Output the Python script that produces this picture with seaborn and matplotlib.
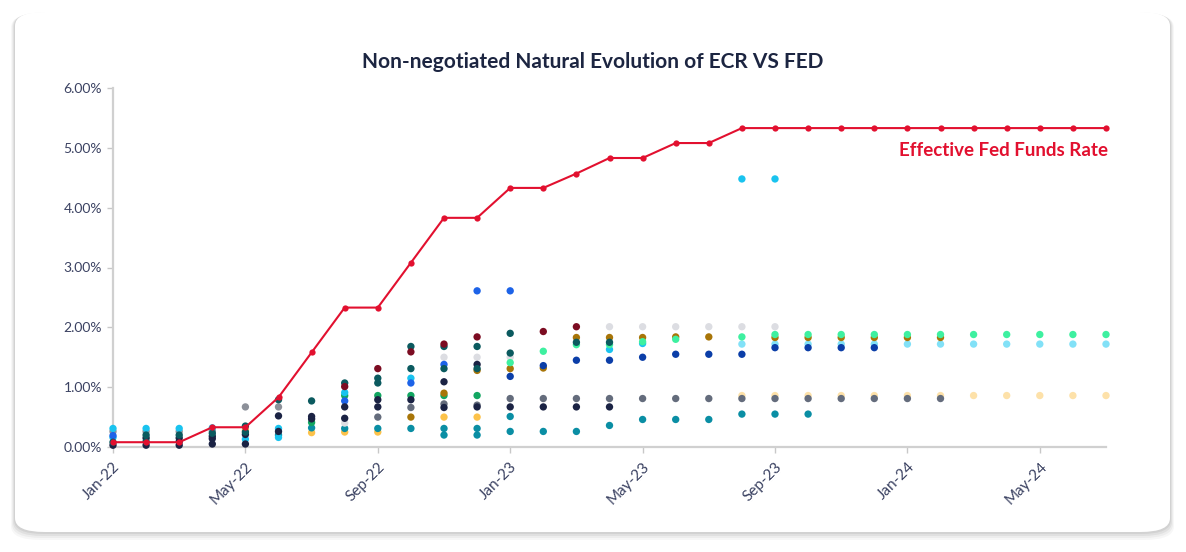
import numpy as np
import pandas as pd
import matplotlib
matplotlib.use("Agg")
import matplotlib.pyplot as plt
import seaborn as sns
from matplotlib.patches import FancyBboxPatch

N = np.nan

months = ["Jan-22", "Feb-22", "Mar-22", "Apr-22", "May-22", "Jun-22", "Jul-22", "Aug-22",
          "Sep-22", "Oct-22", "Nov-22", "Dec-22", "Jan-23", "Feb-23", "Mar-23", "Apr-23",
          "May-23", "Jun-23", "Jul-23", "Aug-23", "Sep-23", "Oct-23", "Nov-23", "Dec-23",
          "Jan-24", "Feb-24", "Mar-24", "Apr-24", "May-24", "Jun-24", "Jul-24"]
tick_labels = ["Jan-22", "May-22", "Sep-22", "Jan-23", "May-23", "Sep-23", "Jan-24", "May-24"]

fed_rate = [0.08, 0.08, 0.08, 0.33, 0.33, 0.83, 1.58, 2.33, 2.33, 3.08, 3.83, 3.83, 4.33, 4.33,
            4.57, 4.83, 4.83, 5.08, 5.08, 5.33, 5.33, 5.33, 5.33, 5.33, 5.33, 5.33, 5.33, 5.33,
            5.33, 5.33, 5.33]

#            0    1    2    3    4    5    6    7    8    9    10   11   12   13   14   15   16   17   18   19   20   21   22   23   24   25   26   27   28   29   30
cyan_a    = [.31, .31, .31, .32, N,   .31, N,   .91, N,   1.15,N,   N,   N,   N,   N,   1.63,1.73,N,   N,   N,   N,   N,   N,   N,   N,   N,   N,   N,   N,   N,   N]
cyan_b    = [.16, N,   N,   N,   .13, .16, N,   N,   N,   N,   N,   N,   N,   N,   N,   N,   N,   N,   N,   4.48,4.48,N,   N,   N,   N,   N,   N,   N,   N,   N,   N]
gray_a    = [.26, .26, .26, .27, .67, .67, N,   N,   N,   N,   N,   N,   N,   N,   N,   N,   N,   N,   N,   N,   N,   N,   N,   N,   N,   N,   N,   N,   N,   N,   N]
blue_a    = [.19, N,   N,   N,   N,   N,   N,   .77, N,   1.07,1.38,2.61,2.61,N,   N,   N,   N,   N,   N,   N,   N,   N,   N,   N,   N,   N,   N,   N,   N,   N,   N]
tealdk_a  = [.08, .20, .20, .23, .35, .79, .77, 1.07,1.15,1.68,1.68,1.68,1.90,N,   N,   N,   N,   N,   N,   N,   N,   N,   N,   N,   N,   N,   N,   N,   N,   N,   N]
tealdk_b  = [N,   .09, N,   N,   .25, N,   N,   N,   1.07,1.31,1.31,1.31,1.57,N,   1.75,1.75,N,   N,   N,   N,   N,   N,   N,   N,   N,   N,   N,   N,   N,   N,   N]
navy_a    = [.03, .03, .03, .05, .05, .26, .47, .48, .67, .79, 1.09,1.38,N,   N,   N,   N,   N,   N,   N,   N,   N,   N,   N,   N,   N,   N,   N,   N,   N,   N,   N]
navy_b    = [N,   .15, .15, .18, .21, .52, .51, .67, .79, N,   .66, .67, .67, .67, .67, .67, N,   N,   N,   N,   N,   N,   N,   N,   N,   N,   N,   N,   N,   N,   N]
navy_c    = [N,   N,   .09, .14, N,   N,   N,   N,   N,   N,   N,   N,   N,   N,   N,   N,   N,   N,   N,   N,   N,   N,   N,   N,   N,   N,   N,   N,   N,   N,   N]
maroon_a  = [N,   N,   N,   N,   N,   N,   N,   1.01,1.31,1.59,1.72,1.84,N,   1.93,2.01,N,   N,   N,   N,   N,   N,   N,   N,   N,   N,   N,   N,   N,   N,   N,   N]
ltgray_a  = [N,   N,   N,   N,   N,   N,   N,   .40, N,   N,   1.50,1.50,1.50,N,   N,   2.01,2.01,2.01,2.01,2.01,2.01,N,   N,   N,   N,   N,   N,   N,   N,   N,   N]
green_a   = [N,   N,   N,   N,   N,   N,   .41, .86, .86, .86, .86, .86, N,   N,   N,   N,   N,   N,   N,   N,   N,   N,   N,   N,   N,   N,   N,   N,   N,   N,   N]
teal_a    = [N,   N,   N,   N,   N,   .20, .32, .31, .31, .31, .31, .31, .26, .26, .26, .36, .46, .46, .46, .55, .55, .55, N,   N,   N,   N,   N,   N,   N,   N,   N]
teal_b    = [N,   N,   N,   N,   N,   N,   N,   N,   N,   N,   .20, .20, .51, N,   N,   N,   N,   N,   N,   N,   N,   N,   N,   N,   N,   N,   N,   N,   N,   N,   N]
yellow_a  = [N,   N,   N,   N,   .28, N,   .24, .25, .25, N,   .50, .50, N,   N,   N,   N,   N,   N,   N,   N,   N,   N,   N,   N,   N,   N,   N,   N,   N,   N,   N]
gold_a    = [N,   N,   N,   N,   N,   N,   N,   N,   N,   .50, .90, 1.28,1.31,1.32,1.83,1.83,1.83,1.84,1.84,N,   1.83,1.83,1.83,1.83,1.83,1.83,N,   N,   N,   N,   N]
slate_a   = [N,   N,   N,   N,   N,   N,   N,   N,   .50, .66, .72, .70, .81, .81, .81, .81, .81, .81, .81, .81, .81, .81, .81, .81, .81, .81, N,   N,   N,   N,   N]
mint_a    = [N,   N,   N,   N,   N,   N,   N,   N,   N,   N,   N,   N,   1.41,1.60,1.71,1.71,1.76,1.80,N,   1.84,1.88,1.88,1.88,1.88,1.88,1.88,1.88,1.88,1.88,1.88,1.88]
dkblue_a  = [N,   N,   N,   N,   N,   N,   N,   N,   N,   N,   N,   N,   1.18,1.36,1.45,1.45,1.50,1.55,1.55,1.55,1.66,1.66,1.66,1.66,N,   N,   N,   N,   N,   N,   N]
ltcyan_a  = [N,   N,   N,   N,   N,   N,   N,   N,   N,   N,   N,   N,   N,   N,   N,   N,   N,   N,   N,   1.72,1.72,1.72,1.72,1.72,1.72,1.72,1.72,1.72,1.72,1.72,1.72]
peach_a   = [N,   N,   N,   N,   N,   N,   N,   N,   N,   N,   N,   N,   N,   N,   N,   N,   N,   N,   N,   .86, .86, .86, .86, .86, .86, .86, .86, .86, .86, .86, .86]

series = {
    "peach": peach_a, "ltcyan": ltcyan_a, "yellow": yellow_a, "teal_a": teal_a, "teal_b": teal_b,
    "gray": gray_a, "slate": slate_a, "ltgray": ltgray_a, "green": green_a, "cyan_a": cyan_a,
    "cyan_b": cyan_b, "blue": blue_a, "gold": gold_a, "mint": mint_a, "dkblue": dkblue_a,
    "navy_a": navy_a, "navy_b": navy_b, "navy_c": navy_c, "tealdk_a": tealdk_a,
    "tealdk_b": tealdk_b, "maroon": maroon_a,
}
palette = {
    "peach": "#fde1a9", "ltcyan": "#82e1f7", "yellow": "#fcc24a", "teal_a": "#0a8ea4",
    "teal_b": "#0a8ea4", "gray": "#8c9099", "slate": "#646c7c", "ltgray": "#dcdde2",
    "green": "#12a661", "cyan_a": "#19c3ef", "cyan_b": "#19c3ef", "blue": "#1d63e8",
    "gold": "#a87508", "mint": "#3ef0a0", "dkblue": "#0b3ea8", "navy_a": "#1b2344",
    "navy_b": "#1b2344", "navy_c": "#1b2344", "tealdk_a": "#0b5a5f", "tealdk_b": "#0b5a5f",
    "maroon": "#7c0c22",
}

rows = []
for name, vals in series.items():
    assert len(vals) == len(months), name
    for i, v in enumerate(vals):
        if not np.isnan(v):
            rows.append({"m": i, "rate": v, "series": name})
df = pd.DataFrame(rows)

sns.set_theme(style="white")
plt.rcParams["font.family"] = ["Lato", "DejaVu Sans"]

TXT = "#1c2541"
RED = "#e2102f"

fig = plt.figure(figsize=(11.86, 5.52), dpi=100)
fig.patch.set_facecolor("white")

# card shadow + card
for k, a in [(8, 0.03), (6, 0.04), (4, 0.05), (2, 0.06)]:
    fig.patches.append(FancyBboxPatch((15 / 1186 - k / 1186 * 0.5, (552 - 532 - k) / 552),
                                      1155 / 1186 + k / 1186, (520 + k * 0.8) / 552,
                                      boxstyle="round,pad=0,rounding_size=0.025",
                                      transform=fig.transFigure, facecolor="#000000",
                                      alpha=a, edgecolor="none", zorder=-3))
fig.patches.append(FancyBboxPatch((15 / 1186, (552 - 532) / 552), 1155 / 1186, 520 / 552,
                                  boxstyle="round,pad=0,rounding_size=0.025",
                                  transform=fig.transFigure, facecolor="white",
                                  edgecolor="none", zorder=-2))

ax = fig.add_axes([113 / 1186, 1 - 447 / 552, (1106 - 113) / 1186, (447 - 88) / 552])
ax.set_zorder(5)
ax.set_facecolor("none")

sns.scatterplot(data=df, x="m", y="rate", hue="series", palette=palette, s=28,
                linewidth=0, legend=False, ax=ax, clip_on=False, zorder=3)
sns.lineplot(x=list(range(len(months))), y=fed_rate, color=RED, linewidth=1.5,
             marker="o", markersize=4.5, markeredgewidth=0, ax=ax, zorder=5, clip_on=False)

ax.set_xlim(0, len(months) - 1)
ax.set_ylim(0, 6)
ax.set_yticks([0, 1, 2, 3, 4, 5, 6])
ax.set_yticklabels([f"{v:.2f}%" for v in [0, 1, 2, 3, 4, 5, 6]])
tick_pos = [months.index(t) for t in tick_labels]
ax.set_xticks(tick_pos)
ax.set_xticklabels(tick_labels, rotation=45, ha="right", rotation_mode="anchor")
ax.tick_params(axis="both", colors="#c8c8c8", labelcolor="#3b4262",
               length=4, width=1, direction="out", pad=4, left=True, bottom=True)
ax.tick_params(axis="y", labelsize=10)
ax.tick_params(axis="x", labelsize=11, pad=5)
ax.set_xlabel("")
ax.set_ylabel("")
for s in ["top", "right"]:
    ax.spines[s].set_visible(False)
for s in ["left", "bottom"]:
    ax.spines[s].set_color("#d0d0d0")
    ax.spines[s].set_linewidth(1.6)

ax.text(len(months) - 1 + 0.05, 4.95, "Effective Fed Funds Rate", color=RED, fontsize=13.5,
        fontweight="bold", ha="right", va="center")

fig.text(593 / 1186, 1 - 62 / 552, "Non-negotiated Natural Evolution of ECR VS FED",
         color=TXT, fontsize=15, fontweight="bold", ha="center", va="center")

fig.savefig("out.png", dpi=100, facecolor=fig.get_facecolor())
